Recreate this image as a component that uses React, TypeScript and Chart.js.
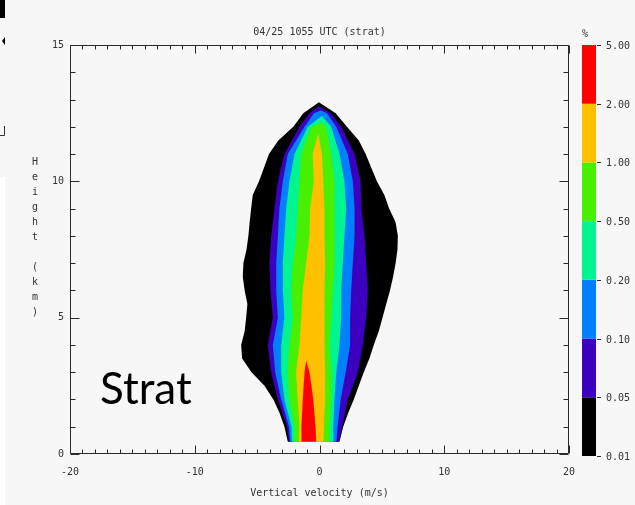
import React, { useEffect, useRef } from 'react';
import { Chart, registerables } from 'chart.js';

Chart.register(...registerables);

// ---------- text ----------
const TITLE = '04/25 1055 UTC (strat)';
const X_TITLE = 'Vertical velocity (m/s)';
const Y_TITLE = 'Height (km)';
const PANEL_LABEL = 'Strat';
const UNIT_LABEL = '%';

// ---------- axes ----------
const X_MIN = -20;
const X_MAX = 20;
const Y_MIN = 0;
const Y_MAX = 15;

// ---------- colour levels (frequency %, bottom to top of colour bar) ----------
const LEVEL_LABELS = ['0.01', '0.05', '0.10', '0.20', '0.50', '1.00', '2.00', '5.00'];
const LEVEL_COLORS = ['#000000', '#3c00c0', '#0080ff', '#00f590', '#48f000', '#ffc000', '#ff0000'];

// ---------- contour edges: vertical velocity (m/s) at each height (km) ----------
const BLACK_HEIGHT_KM = [0.45, 1, 1.5, 2, 2.5, 3, 3.5, 4, 4.5, 5, 5.5, 6, 6.5, 7, 7.5, 8, 8.5, 9, 9.5, 10, 10.5, 11, 11.5, 12, 12.5];
const BLACK_LEFT = [-2.54, -2.81, -3.2, -3.7, -4.41, -5.45, -6.2, -6.28, -6.0, -5.88, -5.78, -6.0, -6.15, -6.1, -5.85, -5.7, -5.6, -5.48, -5.35, -4.85, -4.45, -4.05, -3.3, -2.1, -1.3];
const BLACK_RIGHT = [1.6, 1.9, 2.3, 2.75, 3.15, 3.55, 4.0, 4.35, 4.75, 5.05, 5.35, 5.65, 5.9, 6.1, 6.25, 6.28, 6.1, 5.58, 5.2, 4.6, 4.15, 3.7, 3.15, 2.2, 1.3];

const HEIGHT_KM = [0.45, 1, 2, 3, 4, 5, 6, 7, 8, 9, 10, 11, 12, 12.5];
const PURPLE_LEFT = [-2.45, -2.6, -3.34, -3.87, -4.15, -3.74, -3.93, -4.01, -3.87, -3.61, -3.34, -2.81, -1.6, -0.8];
const PURPLE_RIGHT = [1.55, 1.8, 2.27, 3.07, 3.47, 3.74, 3.87, 3.74, 3.61, 3.35, 3.3, 2.81, 1.74, 0.88];
const BLUE_LEFT = [-2.35, -2.45, -3.07, -3.55, -3.74, -3.34, -3.47, -3.47, -3.34, -3.21, -2.94, -2.54, -1.2, -0.45];
const BLUE_RIGHT = [1.35, 1.45, 1.7, 2.1, 2.45, 2.45, 2.54, 2.67, 2.81, 2.81, 2.67, 2.27, 1.34, 0.6];
const TEAL_LEFT = [-2.2, -2.25, -2.81, -3.07, -3.07, -2.81, -2.94, -2.94, -2.81, -2.67, -2.41, -2.0, -0.94, null];
const TEAL_RIGHT = [1.1, 1.1, 1.2, 1.34, 1.6, 1.74, 1.74, 1.87, 2.0, 2.14, 2.0, 1.6, 0.94, null];
const GREEN_LEFT = [-2.0, -2.0, -2.41, -2.54, -2.41, -2.14, -2.27, -2.14, -1.87, -1.74, -1.6, -1.47, -0.67, null];
const GREEN_RIGHT = [0.8, 0.8, 0.94, 0.94, 0.8, 0.94, 1.07, 1.2, 1.2, 1.2, 1.2, 0.94, 0.53, null];
const ORANGE_LEFT = [-1.65, -1.6, -1.74, -1.87, -1.6, -1.47, -1.34, -1.07, -0.8, -0.75, -0.45, -0.55, null, null];
const ORANGE_RIGHT = [0.3, 0.35, 0.45, 0.45, 0.4, 0.4, 0.4, 0.45, 0.4, 0.4, 0.3, 0.2, null, null];
const RED_LEFT = [-1.45, -1.45, -1.34, -1.2, null, null, null, null, null, null, null, null, null, null];
const RED_RIGHT = [-0.26, -0.32, -0.5, -0.8, null, null, null, null, null, null, null, null, null, null];

// contour tops (black ... red)
const TIP_HEIGHT_KM = [12.9, 12.75, 12.6, 12.4, 12.15, 11.75, 3.42];
const TIP_X = [-0.05, -0.05, 0.1, 0.2, 0.2, -0.1, -1.07];

type Pt = { x: number; y: number };

function polygon(heights: number[], left: (number | null)[], right: (number | null)[], tipH: number, tipX: number): Pt[] {
  const pts: Pt[] = [];
  heights.forEach((h, i) => {
    const v = left[i];
    if (v != null) pts.push({ x: v, y: h });
  });
  pts.push({ x: tipX, y: tipH });
  for (let i = heights.length - 1; i >= 0; i--) {
    const v = right[i];
    if (v != null) pts.push({ x: v, y: heights[i] });
  }
  pts.push({ ...pts[0] });
  return pts;
}

const FONT_MONO = '"DejaVu Sans Mono", "Liberation Mono", monospace';
const TEXT_COLOR = '#333333';

const decorPlugin = {
  id: 'decor',
  beforeDraw(chart: any) {
    const ctx = chart.ctx as CanvasRenderingContext2D;
    ctx.save();
    ctx.fillStyle = '#f7f7f7';
    ctx.fillRect(0, 0, chart.width, chart.height);
    // screenshot edge artefacts
    ctx.fillStyle = '#ffffff';
    ctx.fillRect(0, 177, 5, chart.height - 177);
    ctx.fillStyle = '#000000';
    ctx.fillRect(0, 0, 5, 18);
    ctx.beginPath();
    ctx.moveTo(5, 37);
    ctx.lineTo(2, 41);
    ctx.lineTo(5, 45);
    ctx.closePath();
    ctx.fill();
    ctx.strokeStyle = '#333';
    ctx.lineWidth = 1;
    ctx.beginPath();
    ctx.moveTo(4.5, 126);
    ctx.lineTo(4.5, 135.5);
    ctx.lineTo(0, 135.5);
    ctx.stroke();
    ctx.restore();
  },
  afterDraw(chart: any) {
    const ctx = chart.ctx as CanvasRenderingContext2D;
    const { left, right, top, bottom } = chart.chartArea;
    const xs = chart.scales.x;
    const ys = chart.scales.y;
    ctx.save();
    ctx.strokeStyle = '#2a2a2a';
    ctx.lineWidth = 1;
    const L = Math.round(left) + 0.5;
    const R = Math.round(right) - 0.5;
    const T = Math.round(top) + 0.5;
    const B = Math.round(bottom) - 0.5;
    ctx.beginPath();
    ctx.rect(L, T, R - L, B - T);
    ctx.stroke();
    // inward tick marks
    ctx.beginPath();
    for (let v = X_MIN; v <= X_MAX; v += 1) {
      const px = Math.round(xs.getPixelForValue(v)) + 0.5;
      const len = v % 10 === 0 ? 8 : 4;
      ctx.moveTo(px, B);
      ctx.lineTo(px, B - len);
      ctx.moveTo(px, T);
      ctx.lineTo(px, T + len);
    }
    for (let v = Y_MIN; v <= Y_MAX; v += 1) {
      const py = Math.round(ys.getPixelForValue(v)) + 0.5;
      const len = v % 5 === 0 ? 9 : 5;
      ctx.moveTo(L, py);
      ctx.lineTo(L + len, py);
      ctx.moveTo(R, py);
      ctx.lineTo(R - len, py);
    }
    ctx.stroke();

    // colour bar
    const cbL = 582, cbR = 596, cbT = 45, cbB = 456;
    const n = LEVEL_COLORS.length;
    const h = (cbB - cbT) / n;
    LEVEL_COLORS.forEach((c, i) => {
      ctx.fillStyle = c;
      ctx.fillRect(cbL, cbB - (i + 1) * h, cbR - cbL, h);
    });
    ctx.fillStyle = TEXT_COLOR;
    ctx.font = `10px ${FONT_MONO}`;
    ctx.textAlign = 'left';
    ctx.textBaseline = 'middle';
    ctx.beginPath();
    LEVEL_LABELS.forEach((lab, i) => {
      const y = Math.round(cbB - i * h);
      ctx.moveTo(597, y + 0.5);
      ctx.lineTo(601, y + 0.5);
      ctx.fillText(lab, 606, y + 1);
    });
    ctx.stroke();
    ctx.fillText(UNIT_LABEL, 582, 34);

    // stacked y-axis title
    ctx.textAlign = 'center';
    Y_TITLE.split('').forEach((ch, i) => {
      if (ch !== ' ') ctx.fillText(ch, 35, 162 + i * 15);
    });

    // panel label
    ctx.fillStyle = '#000000';
    ctx.font = '44px Lato, "Open Sans", sans-serif';
    ctx.textAlign = 'left';
    ctx.textBaseline = 'alphabetic';
    ctx.fillText(PANEL_LABEL, 100, 404);
    ctx.restore();
  },
};

export default function App() {
  const ref = useRef<HTMLCanvasElement | null>(null);

  useEffect(() => {
    if (!ref.current) return;
    const levels = [
      polygon(BLACK_HEIGHT_KM, BLACK_LEFT, BLACK_RIGHT, TIP_HEIGHT_KM[0], TIP_X[0]),
      polygon(HEIGHT_KM, PURPLE_LEFT, PURPLE_RIGHT, TIP_HEIGHT_KM[1], TIP_X[1]),
      polygon(HEIGHT_KM, BLUE_LEFT, BLUE_RIGHT, TIP_HEIGHT_KM[2], TIP_X[2]),
      polygon(HEIGHT_KM, TEAL_LEFT, TEAL_RIGHT, TIP_HEIGHT_KM[3], TIP_X[3]),
      polygon(HEIGHT_KM, GREEN_LEFT, GREEN_RIGHT, TIP_HEIGHT_KM[4], TIP_X[4]),
      polygon(HEIGHT_KM, ORANGE_LEFT, ORANGE_RIGHT, TIP_HEIGHT_KM[5], TIP_X[5]),
      polygon(HEIGHT_KM, RED_LEFT, RED_RIGHT, TIP_HEIGHT_KM[6], TIP_X[6]),
    ];
    const datasets = levels.map((pts, i) => ({
      label: LEVEL_LABELS[i],
      data: pts,
      backgroundColor: LEVEL_COLORS[i],
      borderColor: LEVEL_COLORS[i],
      borderWidth: 0,
      pointRadius: 0,
      pointHoverRadius: 0,
      tension: 0,
      fill: 'shape',
      order: LEVEL_COLORS.length - i,
    }));

    const chart = new Chart(ref.current, {
      type: 'line',
      data: { datasets: datasets as any },
      options: {
        animation: false,
        responsive: false,
        devicePixelRatio: 1,
        events: [],
        layout: { padding: { top: 18, right: 66, bottom: 0, left: 0 } },
        plugins: {
          legend: { display: false },
          tooltip: { enabled: false },
          filler: { propagate: false },
          title: {
            display: true,
            text: TITLE,
            fullSize: false,
            color: TEXT_COLOR,
            font: { family: FONT_MONO, size: 10, weight: 'normal', lineHeight: 1.2 },
            padding: { top: 8, bottom: 7 },
          },
        },
        scales: {
          x: {
            type: 'linear',
            min: X_MIN,
            max: X_MAX,
            grid: { display: false, drawTicks: false },
            border: { display: false },
            ticks: {
              stepSize: 10,
              autoSkip: false,
              maxRotation: 0,
              padding: 12,
              color: TEXT_COLOR,
              font: { family: FONT_MONO, size: 10, lineHeight: 1.2 },
            },
            title: {
              display: true,
              text: X_TITLE,
              color: TEXT_COLOR,
              font: { family: FONT_MONO, size: 10, lineHeight: 1.2 },
              padding: { top: 0, bottom: 6 },
            },
            afterFit: (s: any) => {
              s.height = 51;
            },
          },
          y: {
            type: 'linear',
            min: Y_MIN,
            max: Y_MAX,
            grid: { display: false, drawTicks: false },
            border: { display: false },
            ticks: {
              stepSize: 5,
              autoSkip: false,
              padding: 6,
              color: TEXT_COLOR,
              font: { family: FONT_MONO, size: 10, lineHeight: 1.2 },
            },
            afterFit: (s: any) => {
              s.width = 70;
            },
          },
        },
      } as any,
      plugins: [decorPlugin],
    });
    return () => chart.destroy();
  }, []);

  return (
    <div style={{ position: 'fixed', left: 0, top: 0, width: 635, height: 505, background: '#f7f7f7' }}>
      <canvas ref={ref} width={635} height={505} style={{ display: 'block', width: 635, height: 505 }} />
    </div>
  );
}
